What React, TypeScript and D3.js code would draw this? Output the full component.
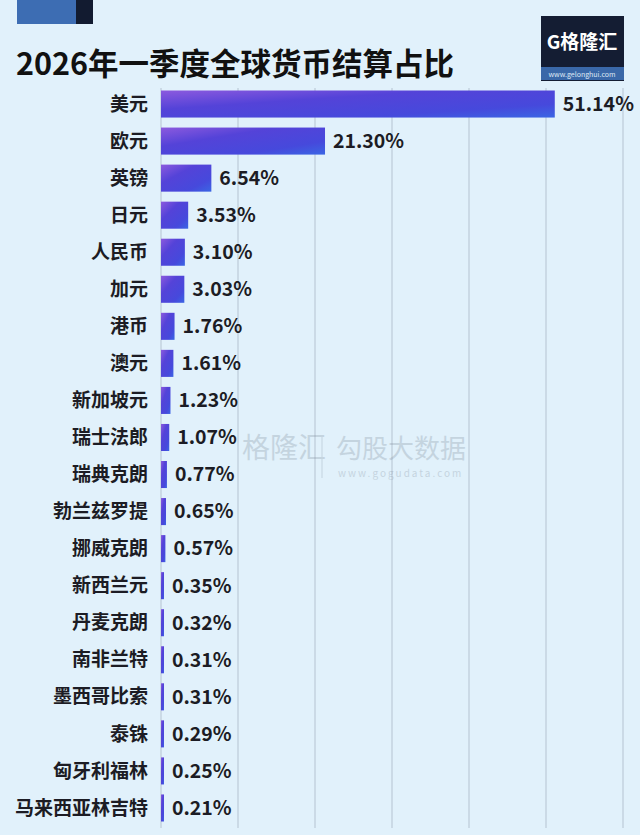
import React from "react";
import * as d3 from "d3";

const categories = ["美元","欧元","英镑","日元","人民币","加元","港币","澳元","新加坡元","瑞士法郎","瑞典克朗","勃兰兹罗提","挪威克朗","新西兰元","丹麦克朗","南非兰特","墨西哥比索","泰铢","匈牙利福林","马来西亚林吉特"];
const values = [51.14,21.30,6.54,3.53,3.10,3.03,1.76,1.61,1.23,1.07,0.77,0.65,0.57,0.35,0.32,0.31,0.31,0.29,0.25,0.21];
const gridTicks = [0,10,20,30,40,50,60];
const title = "2026年一季度全球货币结算占比";

const W = 640, H = 835;
const FONT = "'Noto Sans CJK SC', 'Noto Sans', sans-serif";

export default function App() {
  const x = d3.scaleLinear().domain([0, 60]).range([161, 623]);
  const y = d3.scaleBand<string>().domain(categories).range([85.5, 826.5]).paddingInner(0.27).paddingOuter(0.135);
  const bh = y.bandwidth();
  return (
    <div style={{ position: "absolute", left: 0, top: 0 }}>
      <svg width={W} height={H} style={{ display: "block" }}>
        <defs>
          <linearGradient id="barg" x1="0" y1="0" x2="1" y2="1">
            <stop offset="0" stopColor="#8c5ade" />
            <stop offset="0.35" stopColor="#5443d8" />
            <stop offset="0.75" stopColor="#4649dc" />
            <stop offset="1" stopColor="#3b66e4" />
          </linearGradient>
        </defs>
        <rect width={W} height={H} fill="#e1f1fb" />
        {/* top decoration */}
        <rect x={17} y={0} width={59} height={24} fill="#3d6db3" />
        <rect x={76} y={0} width={17} height={24} fill="#121b30" />
        {/* title */}
        <text x={16} y={75} fontFamily={FONT} fontWeight={700} fontSize={30.5} fill="#111">{title}</text>
        {/* logo */}
        <rect x={541} y={16} width={83} height={65} fill="#141d33" />
        <rect x={541} y={67} width={83} height={13} fill="#3a68a8" />
        <text x={582} y={49} textAnchor="middle" fontFamily={FONT} fontWeight={700} fontSize={19} fill="#fff">G格隆汇</text>
        <text x={582} y={77} textAnchor="middle" fontFamily={FONT} fontSize={7} fill="#dfe8f5">www.gelonghui.com</text>
        {/* gridlines */}
        {gridTicks.map((t) => (
          <line key={t} x1={x(t)} x2={x(t)} y1={88} y2={828} stroke="#b5c3d1" strokeWidth={1} />
        ))}
        {/* watermark */}
        <g opacity={0.28} fontFamily={FONT}>
          <text x={242} y={458} fontSize={28} fill="#7d8a99">格隆汇</text>
          <text x={336} y={458} fontSize={26} fill="#7d8a99">勾股大数据</text>
          <text x={338} y={477} fontSize={10} fill="#7d8a99" letterSpacing={2}>www.gogudata.com</text>
          <line x1={322} x2={322} y1={436} y2={478} stroke="#7d8a99" />
        </g>
        {/* bars */}
        {categories.map((c, i) => {
          const yy = y(c)!;
          const w = Math.max(x(values[i]) - x(0), 3);
          return (
            <g key={c}>
              <rect x={x(0)} y={yy} width={w} height={bh} fill="url(#barg)" />
              <text x={148} y={yy + bh / 2} dy="0.35em" textAnchor="end" fontFamily={FONT} fontWeight={700} fontSize={19} fill="#1c1c24">{c}</text>
              <text x={x(0) + w + 8} y={yy + bh / 2} dy="0.35em" fontFamily={FONT} fontWeight={700} fontSize={19.5} fill="#1c1c24">{values[i].toFixed(2)}%</text>
            </g>
          );
        })}
      </svg>
    </div>
  );
}
